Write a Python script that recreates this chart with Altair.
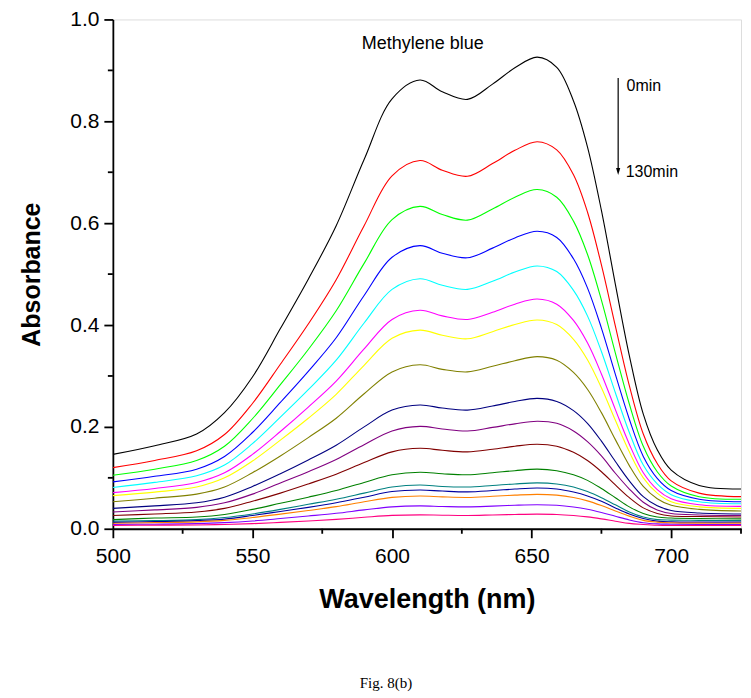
import altair as alt
import pandas as pd

# ---------------- data ----------------
wavelength = [500, 515, 530, 540, 550, 560, 570, 580, 590, 600, 610, 618, 627, 636,
              644, 652, 659, 665, 670, 675, 680, 685, 690, 695, 700, 710, 725]

black   = [.146, .163, .186, .228, .298, .393, .490, .595, .725, .844, .881, .858, .843, .873,
           .905, .926, .906, .840, .750, .625, .480, .340, .225, .155, .115, .085, .078]
red     = [.120, .134, .153, .185, .246, .323, .402, .489, .595, .693, .723, .704, .692, .717,
           .743, .760, .744, .695, .622, .518, .398, .281, .186, .128, .094, .070, .063]
green   = [.105, .117, .134, .162, .216, .283, .352, .428, .521, .607, .633, .617, .606, .628,
           .651, .666, .651, .604, .539, .449, .345, .245, .162, .112, .084, .063, .058]
blue    = [.092, .103, .117, .142, .189, .248, .309, .375, .458, .533, .556, .541, .532, .551,
           .571, .584, .572, .530, .473, .394, .303, .215, .142, .099, .075, .058, .053]
cyan    = [.081, .091, .104, .125, .167, .219, .273, .331, .404, .470, .491, .478, .470, .486,
           .504, .516, .505, .468, .418, .348, .267, .189, .125, .088, .067, .053, .049]
magenta = [.071, .079, .091, .110, .146, .191, .239, .290, .353, .411, .429, .418, .411, .425,
           .441, .451, .441, .409, .365, .304, .234, .166, .110, .077, .059, .047, .044]
yellow  = [.065, .072, .082, .100, .133, .174, .217, .264, .321, .374, .390, .380, .373, .387,
           .401, .410, .401, .372, .332, .277, .213, .151, .100, .070, .053, .043, .040]
dkyellow = [.053, .060, .068, .082, .110, .143, .179, .217, .265, .308, .322, .313, .308, .319,
            .330, .338, .331, .307, .274, .228, .175, .124, .083, .059, .046, .038, .035]
navy    = [.040, .045, .051, .062, .083, .108, .135, .164, .200, .233, .243, .237, .233, .241,
           .250, .256, .250, .232, .207, .172, .132, .094, .063, .045, .036, .031, .029]
purple  = [.033, .037, .042, .051, .068, .090, .112, .136, .165, .192, .201, .196, .192, .199,
           .206, .211, .207, .192, .171, .143, .109, .078, .052, .037, .030, .027, .026]
wine    = [.026, .029, .033, .040, .054, .070, .088, .107, .130, .151, .158, .154, .151, .156,
           .162, .166, .162, .150, .134, .112, .086, .061, .041, .030, .025, .024, .023]
olive   = [.018, .021, .023, .028, .038, .050, .062, .075, .091, .106, .111, .108, .106, .110,
           .114, .117, .114, .106, .095, .079, .061, .043, .030, .023, .021, .020, .0195]
dkcyan  = [.015, .016, .018, .022, .029, .038, .048, .058, .070, .082, .086, .083, .082, .085,
           .088, .090, .088, .082, .073, .061, .047, .033, .023, .018, .017, .0165, .016]
royal   = [.0126, .014, .016, .019, .026, .034, .042, .051, .062, .073, .076, .074, .0725, .075,
           .078, .080, .078, .072, .0645, .054, .041, .029, .020, .015, .0135, .013, .013]
orange  = [.0107, .012, .0136, .0164, .022, .0287, .0358, .0434, .053, .0616, .0643, .0626, .0615, .0637,
           .066, .0676, .066, .0613, .0548, .0456, .035, .0248, .0165, .013, .0115, .011, .011]
violet  = [.0085, .009, .010, .012, .0153, .020, .025, .0303, .037, .043, .0449, .0438, .043, .0445,
           .0462, .0472, .0462, .0428, .0383, .0319, .0245, .0173, .0118, .0095, .009, .0085, .0085]
pink    = [.0065, .007, .0075, .0085, .010, .0125, .0152, .0184, .0225, .0262, .0273, .0266, .0261, .0271,
           .0281, .0287, .0281, .026, .0233, .0194, .0149, .0105, .0085, .007, .0065, .0065, .0065]

series_names = ["Black", "Red", "Green", "Blue", "Cyan", "Magenta", "Yellow", "Dark Yellow",
                "Navy", "Purple", "Wine", "Olive", "Dark Cyan", "Royal", "Orange", "Violet", "Pink"]
series_values = [black, red, green, blue, cyan, magenta, yellow, dkyellow,
                 navy, purple, wine, olive, dkcyan, royal, orange, violet, pink]
series_colors = ["#000000", "#FF0000", "#00FF00", "#0000FF", "#00FFFF", "#FF00FF", "#FFFF00", "#808000",
                 "#000080", "#800080", "#800000", "#008000", "#008080", "#0000A0", "#FF8000", "#8000FF", "#FF0080"]

x_major = [500, 550, 600, 650, 700]
x_minor = [525, 575, 625, 675, 725]
y_major = [0.0, 0.2, 0.4, 0.6, 0.8, 1.0]
y_minor = [0.1, 0.3, 0.5, 0.7, 0.9]

annot_label = ["Methylene blue"]
annot_x = [611]
annot_y = [0.951]
time_labels = ["0min", "130min"]
time_x = [684, 683.7]
time_y = [0.869, 0.701]
arrow_x = [681]
arrow_top = [0.885]
arrow_bottom = [0.703]
arrow_head_y = [0.7016]

# ---------------- build tables ----------------
rows = []
for i, (name, vals) in enumerate(zip(series_names, series_values)):
    for w, a in zip(wavelength, vals):
        rows.append({"series": name, "order": i, "wavelength": w, "absorbance": a})
df = pd.DataFrame(rows)

FONT = "Liberation Sans"
PLOT_H = 510
x_scale = alt.Scale(domain=[500, 725], nice=False, zero=False)
y_scale = alt.Scale(domain=[0, 1], nice=False, zero=False)

x_axis = alt.Axis(values=x_major, title="Wavelength (nm)", format="d",
                  grid=False, domainColor="black", domainWidth=1.8,
                  tickColor="black", tickWidth=1.8, tickSize=9,
                  labelFont=FONT, labelFontSize=21, labelColor="black", labelPadding=8,
                  labelFlush=False, labelOverlap=False,
                  titleFont=FONT, titleFontSize=27, titleFontWeight="bold",
                  titleColor="black", titlePadding=20)
y_axis = alt.Axis(values=y_major, title="Absorbance", format=".1f",
                  grid=False, domainColor="black", domainWidth=1.8,
                  tickColor="black", tickWidth=1.8, tickSize=9,
                  labelFont=FONT, labelFontSize=21, labelColor="black", labelPadding=5,
                  labelFlush=False, labelOverlap=False,
                  titleFont=FONT, titleFontSize=25, titleFontWeight="bold",
                  titleColor="black", titlePadding=25)


def X(field):
    return alt.X(field, scale=x_scale, axis=x_axis)


def Y(field):
    return alt.Y(field, scale=y_scale, axis=y_axis)


lines = alt.Chart(df).mark_line(strokeWidth=1.1, interpolate="catmull-rom", clip=True).encode(
    x=X("wavelength:Q"),
    y=Y("absorbance:Q"),
    color=alt.Color("series:N", scale=alt.Scale(domain=series_names, range=series_colors), legend=None),
    detail="series:N",
    order="order:Q",
)

ymin_df = pd.DataFrame({"v": y_minor})
y_minor_ticks = alt.Chart(ymin_df).mark_rule(color="black", strokeWidth=1.8).encode(
    y=Y("v:Q"),
    x=alt.value(0), x2=alt.value(-5),
)
xmin_df = pd.DataFrame({"v": x_minor})
x_minor_ticks = alt.Chart(xmin_df).mark_rule(color="black", strokeWidth=1.8).encode(
    x=X("v:Q"),
    y=alt.value(PLOT_H), y2=alt.value(PLOT_H + 5),
)

annot_df = pd.DataFrame({"label": annot_label, "x": annot_x, "y": annot_y})
title_text = alt.Chart(annot_df).mark_text(font=FONT, fontSize=18, color="black",
                                           align="center", baseline="middle").encode(
    x=X("x:Q"), y=Y("y:Q"), text="label:N")

time_df = pd.DataFrame({"label": time_labels, "x": time_x, "y": time_y})
time_text = alt.Chart(time_df).mark_text(font=FONT, fontSize=16, color="black",
                                         align="left", baseline="middle").encode(
    x=X("x:Q"), y=Y("y:Q"), text="label:N")

arrow_df = pd.DataFrame({"x": arrow_x, "top": arrow_top, "bottom": arrow_bottom, "head": arrow_head_y})
arrow_line = alt.Chart(arrow_df).mark_rule(color="black", strokeWidth=1.2).encode(
    x=X("x:Q"), y=Y("top:Q"), y2="bottom:Q")
arrow_head = alt.Chart(arrow_df).mark_point(shape="M-0.6,-1L0.6,-1L0,1Z", size=49, filled=True,
                                            color="black", opacity=1).encode(
    x=X("x:Q"), y=Y("head:Q"))

chart = alt.layer(lines, y_minor_ticks, x_minor_ticks, title_text, time_text, arrow_line, arrow_head).properties(
    width=629, height=PLOT_H,
    autosize=alt.AutoSizeParams(type="none"),
    padding={"left": 105, "top": 11, "right": 2, "bottom": 165},
    title=alt.TitleParams("Fig. 8(b)", orient="bottom", anchor="middle", font="Liberation Serif",
                          fontSize=15, fontWeight="normal", color="black", offset=63, dx=-41),
).configure_view(stroke="black", strokeWidth=1.8).configure(background="white")

chart.save("out.html", embed_options={"renderer": "svg", "actions": False})
